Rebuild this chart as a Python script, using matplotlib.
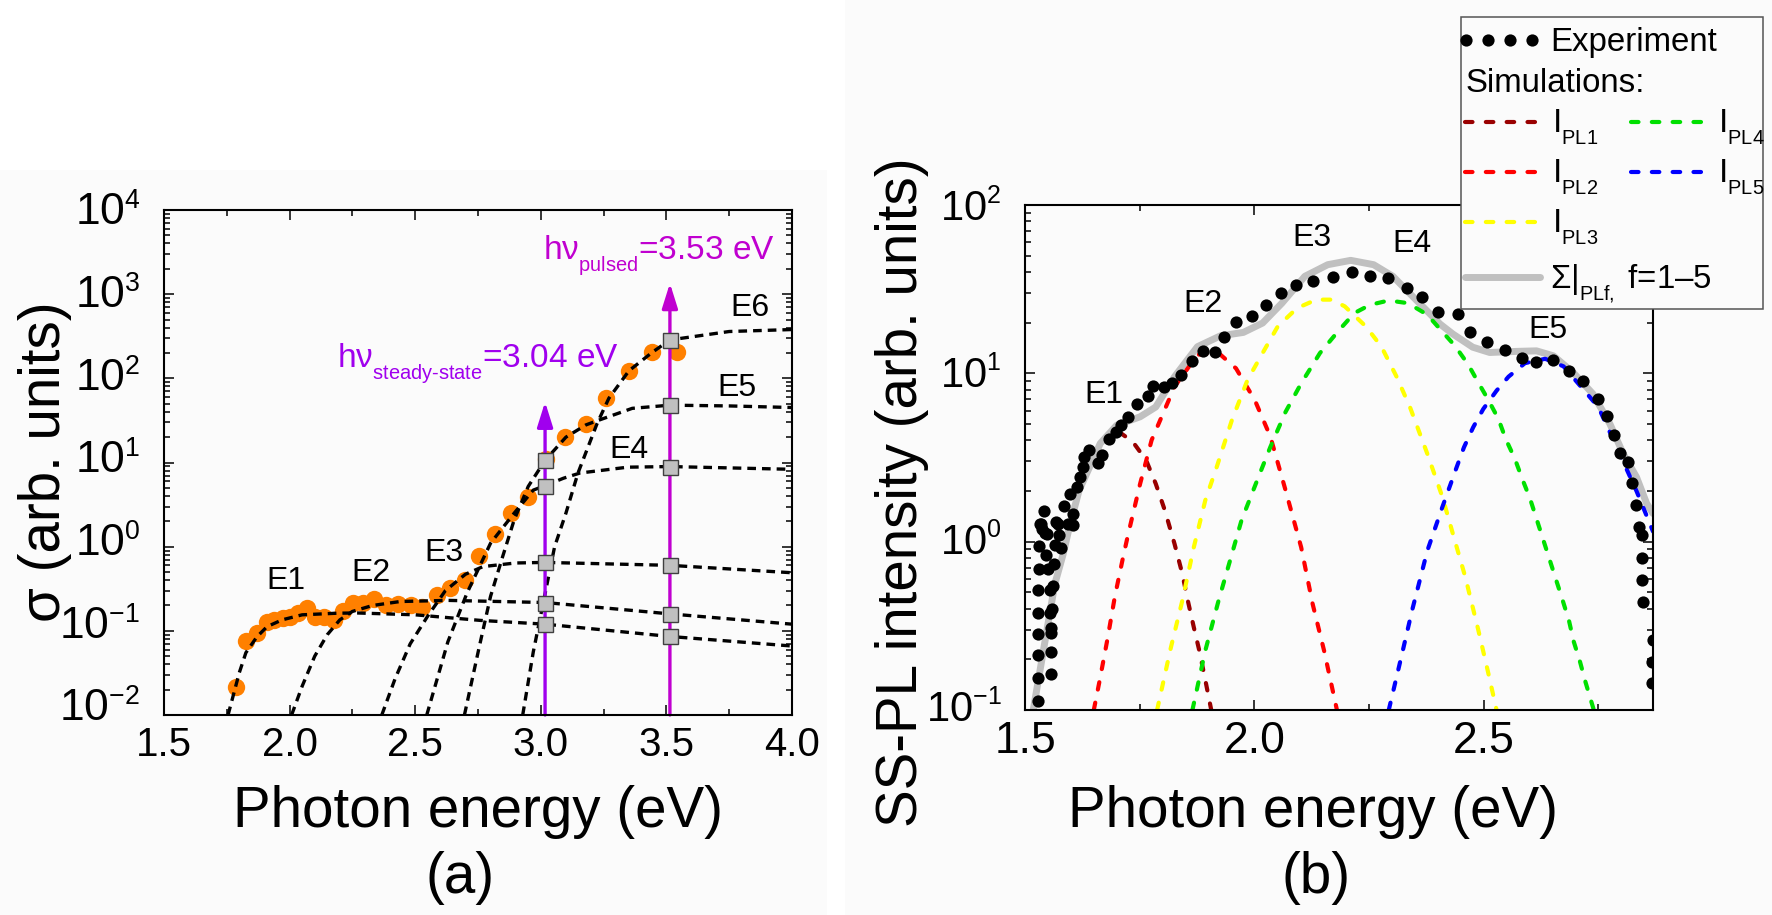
import math
import matplotlib
matplotlib.use("Agg")
import matplotlib.pyplot as plt
import matplotlib._mathtext as _mt
from matplotlib.patches import Rectangle
from matplotlib.ticker import LogLocator, MultipleLocator, NullFormatter
from matplotlib.transforms import Affine2D

_mt.SHRINK_FACTOR = 0.6
_mt.FontConstantsBase.sub1 = 0.68
plt.rcParams['font.family'] = ['Liberation Sans', 'DejaVu Sans']
plt.rcParams['mathtext.fontset'] = 'custom'
plt.rcParams['mathtext.rm'] = 'Liberation Sans'
plt.rcParams['mathtext.it'] = 'Liberation Sans:italic'
plt.rcParams['mathtext.bf'] = 'Liberation Sans:bold'
plt.rcParams['mathtext.default'] = 'regular'
plt.rcParams['axes.unicode_minus'] = True

# ---------- panel (a) ----------
exp_a_x = [1.785, 1.826, 1.871, 1.912, 1.937, 1.974, 2.003, 2.035, 2.068, 2.10, 2.138, 2.175, 2.213, 2.252,
           2.294, 2.336, 2.382, 2.431, 2.482, 2.529, 2.585, 2.637, 2.697, 2.754, 2.816, 2.881, 2.951, 3.02,
           3.098, 3.179, 3.261, 3.351, 3.443, 3.543]
exp_a_y = [0.0215, 0.075, 0.094, 0.129, 0.133, 0.141, 0.148, 0.162, 0.186, 0.148, 0.148, 0.135, 0.17, 0.214,
           0.217, 0.238, 0.204, 0.209, 0.2, 0.19, 0.263, 0.32, 0.40, 0.78, 1.42, 2.5, 3.84, 11,
           20, 28.8, 58, 123, 203, 204]
e1_x = [1.755, 1.80, 1.826, 1.87, 1.91, 1.97, 2.05, 2.19, 2.27, 2.5, 2.76, 3.017, 3.514, 4.0]
e1_y = [0.01, 0.032, 0.055, 0.085, 0.112, 0.135, 0.155, 0.162, 0.163, 0.155, 0.133, 0.12, 0.0857, 0.066]
e2_x = [2.008, 2.05, 2.10, 2.15, 2.20, 2.25, 2.33, 2.44, 2.63, 3.017, 3.514, 4.0]
e2_y = [0.01, 0.022, 0.05, 0.09, 0.135, 0.17, 0.20, 0.223, 0.23, 0.217, 0.159, 0.12]
e3_x = [2.367, 2.42, 2.48, 2.55, 2.62, 2.70, 2.77, 2.9, 3.017, 3.514, 4.0]
e3_y = [0.01, 0.027, 0.07, 0.15, 0.3, 0.47, 0.58, 0.64, 0.65, 0.6, 0.49]
e4_x = [2.546, 2.63, 2.706, 2.80, 2.894, 2.97, 3.017, 3.09, 3.156, 3.346, 3.514, 4.0]
e4_y = [0.01, 0.074, 0.28, 1.1, 2.5, 4.7, 5.3, 6.5, 7.5, 8.8, 8.95, 8.3]
e5_x = [2.696, 2.754, 2.80, 2.848, 2.894, 2.95, 3.017, 3.10, 3.18, 3.233, 3.364, 3.514, 3.75, 4.0]
e5_y = [0.01, 0.0625, 0.257, 0.76, 2.08, 5.2, 10.6, 20, 28, 32, 44, 48, 47, 45]
e6_x = [2.928, 2.97, 3.055, 3.10, 3.148, 3.224, 3.271, 3.351, 3.443, 3.514, 3.75, 4.0]
e6_y = [0.01, 0.056, 1.0, 2.5, 7.5, 29, 58, 123, 203, 286, 360, 380]
steady_x = [3.017] * 5
steady_y = [10.6, 5.3, 0.65, 0.217, 0.12]
pulsed_x = [3.514] * 6
pulsed_y = [286, 48, 8.95, 0.60, 0.159, 0.0857]
arrow_steady = (3.017, 52.5)
arrow_pulsed = (3.514, 1350)

# ---------- panel (b) ----------
exp_b_x = [1.529, 1.529, 1.529, 1.557, 1.557, 1.529, 1.556, 1.556, 1.529, 1.559, 1.555, 1.529, 1.562, 1.554,
           1.531, 1.551, 1.564, 1.545, 1.531, 1.566, 1.578, 1.544, 1.574, 1.605, 1.534, 1.573,
           1.542, 1.533, 1.538, 1.547, 1.568, 1.584, 1.593, 1.605, 1.599, 1.614, 1.620, 1.626, 1.629, 1.639,
           1.659, 1.668, 1.683, 1.699, 1.709, 1.724, 1.744, 1.769, 1.780, 1.803, 1.820, 1.841, 1.864,
           1.887, 1.914, 1.933, 1.961, 1.995, 2.025, 2.058, 2.091, 2.128, 2.171, 2.212, 2.252, 2.291,
           2.332, 2.366, 2.401, 2.444, 2.471, 2.508, 2.547, 2.583, 2.613, 2.652, 2.685, 2.716, 2.75,
           2.768, 2.784, 2.797, 2.814, 2.824, 2.833, 2.838, 2.844, 2.845, 2.846, 2.847, 2.868, 2.866, 2.866]
exp_b_y = [0.212, 0.154, 0.113, 0.222, 0.163, 0.281, 0.305, 0.285, 0.379, 0.40, 0.378, 0.514, 0.543, 0.514,
           0.69, 0.69, 0.733, 0.83, 0.94, 0.96, 0.92, 1.125, 1.09, 1.25, 1.27, 1.28,
           1.52, 1.28, 1.19, 1.11, 1.31, 1.64, 1.28, 1.47, 1.93, 2.11, 2.42, 2.78, 3.2, 3.52,
           2.94, 3.26, 4.1, 4.49, 4.92, 5.5, 6.6, 7.3, 8.4, 8.25, 8.8, 9.8, 11.8,
           13.6, 13.3, 16.5, 20.1, 21.8, 25.3, 30, 33.3, 35.6, 37.2, 39.8, 37.7, 36.8,
           32.2, 28.4, 23, 22.5, 17.6, 15.4, 13.7, 12.3, 11.7, 12, 10.3, 9.0, 7.0,
           5.6, 4.3, 3.37, 2.98, 2.22, 1.66, 1.22, 1.09, 0.80, 0.595, 0.44, 0.26, 0.193, 0.144]
sum_x = [1.518, 1.544, 1.565, 1.583, 1.597, 1.618, 1.664, 1.70, 1.751, 1.785, 1.826, 1.876, 1.926, 1.976,
         2.018, 2.06, 2.11, 2.16, 2.21, 2.26, 2.302, 2.352, 2.405, 2.433, 2.476, 2.513, 2.571, 2.615, 2.652,
         2.695, 2.738, 2.775, 2.804, 2.833, 2.855, 2.869]
sum_y = [0.10, 0.26, 0.56, 0.84, 1.23, 2.02, 3.83, 4.92, 5.52, 6.31, 9.55, 14.4, 16.7, 17.5,
         19.9, 26.1, 37.7, 44.2, 46.9, 44.2, 37.7, 27.4, 19.6, 17.1, 14.3, 13.3, 13.5, 13.6, 12.7,
         10.1, 7.55, 5.01, 3.33, 2.42, 1.69, 1.47]
pl1_x = [1.705, 1.735, 1.764, 1.785, 1.805, 1.826, 1.843, 1.855, 1.868, 1.880, 1.893, 1.906]
pl1_y = [4.49, 3.92, 3.05, 2.21, 1.53, 0.97, 0.643, 0.446, 0.31, 0.225, 0.151, 0.10]
pl2_x = [1.65, 1.663, 1.68, 1.696, 1.715, 1.725, 1.751, 1.776, 1.801, 1.826, 1.876, 1.922, 1.96, 2.001,
         2.035, 2.068, 2.102, 2.127, 2.152, 2.18]
pl2_y = [0.10, 0.151, 0.266, 0.474, 0.838, 1.11, 2.21, 4.01, 5.78, 8.32, 12.9, 13.2, 10.7, 6.93,
         4.2, 2.02, 0.927, 0.427, 0.225, 0.10]
pl3_x = [1.788, 1.818, 1.843, 1.868, 1.893, 1.918, 1.951, 1.985, 2.018, 2.051, 2.093, 2.135, 2.168, 2.197,
         2.243, 2.277, 2.31, 2.339, 2.377, 2.41, 2.435, 2.46, 2.488, 2.509, 2.528]
pl3_y = [0.10, 0.235, 0.447, 0.927, 1.76, 2.78, 5.27, 9.12, 13.2, 19, 24.4, 27.4, 27.4, 25,
         19, 14.4, 9.55, 6.32, 3.33, 1.84, 1.06, 0.614, 0.30, 0.17, 0.10]
pl4_x = [1.865, 1.893, 1.922, 1.947, 1.972, 2.006, 2.035, 2.068, 2.102, 2.143, 2.185, 2.218, 2.252, 2.293,
         2.335, 2.377, 2.408, 2.437, 2.466, 2.488, 2.51, 2.532, 2.548, 2.568, 2.584, 2.601, 2.672, 2.686,
         2.696, 2.71, 2.722, 2.74]
pl4_y = [0.10, 0.225, 0.447, 0.773, 1.34, 2.31, 3.66, 5.9, 8.71, 13.2, 18.1, 22.8, 25.5, 27.1,
         26.1, 22.3, 17.9, 14.6, 11.3, 8.83, 6.95, 5.36, 4.07, 3.1, 2.36, 1.8, 0.449, 0.338,
         0.256, 0.193, 0.146, 0.10]
pl5_x = [2.293, 2.323, 2.344, 2.377, 2.41, 2.441, 2.457, 2.477, 2.499, 2.528, 2.554, 2.59, 2.634, 2.674,
         2.75, 2.80, 2.833, 2.869]
pl5_y = [0.10, 0.222, 0.392, 0.883, 1.61, 2.77, 3.64, 4.78, 6.14, 7.89, 9.55, 11.5, 12.2, 11,
         6.3, 3.16, 2.0, 1.15]

PANEL_BG = '#FBFBFB'
W, H = 1772, 915
fig = plt.figure(figsize=(W / 100, H / 100), dpi=100, facecolor='white')


def rect(l, t, r, b):
    return [l / W, 1 - b / H, (r - l) / W, (b - t) / H]


for l, t, r, b in [(0, 170, 827, 915), (845, 0, 1772, 915)]:
    fig.patches.append(Rectangle((l / W, 1 - b / H), (r - l) / W, (b - t) / H, transform=fig.transFigure,
                                 facecolor=PANEL_BG, edgecolor='none', zorder=-5))

axa = fig.add_axes(rect(164, 210, 792, 715), facecolor='none')
axb = fig.add_axes(rect(1025, 205, 1653, 710), facecolor='none')

# panel (a) marks
axa.plot(exp_a_x, exp_a_y, 'o', color='#FF8000', ms=12.5, mew=0, zorder=2)
for xs, ys in [(e1_x, e1_y), (e2_x, e2_y), (e3_x, e3_y), (e4_x, e4_y), (e5_x, e5_y), (e6_x, e6_y)]:
    axa.plot(xs, ys, color='black', lw=2.4, dashes=(2.6, 1.8), zorder=3)
for (x, y), c in [(arrow_steady, '#A000EE'), (arrow_pulsed, '#C000D0')]:
    axa.annotate('', xy=(x, y), xytext=(x, 0.01), zorder=4,
                 arrowprops=dict(arrowstyle='-|>,head_length=1.5,head_width=0.47', color=c, lw=2.4,
                                 shrinkA=0, shrinkB=0, mutation_scale=10))
for xs, ys in [(steady_x, steady_y), (pulsed_x, pulsed_y)]:
    axa.plot(xs, ys, 's', ms=10.8, mfc='#C0C0C0', mec='#404040', mew=1.0, zorder=5, clip_on=False)

# panel (b) marks
DASH_LW = 3.0
DASH = (1.8, 3.2)
axb.plot(sum_x, sum_y, color='#C0C0C0', lw=5, solid_capstyle='round', zorder=2)
for xs, ys, c in [(pl1_x, pl1_y, '#990000'), (pl2_x, pl2_y, '#FF0000'), (pl3_x, pl3_y, '#FFFF00'),
                  (pl4_x, pl4_y, '#00E000'), (pl5_x, pl5_y, '#0000FF')]:
    axb.plot(xs, ys, color=c, lw=DASH_LW, dashes=DASH, dash_capstyle='round', zorder=3)
axb.plot(exp_b_x, exp_b_y, 'o', color='black', ms=8.8, mew=0, zorder=4)

for ax, fs_x, fs_y, xlim, ylim in [(axa, 29, 32, (1.5, 4.0), (1e-2, 1e4)),
                                   (axb, 32, 30, (1.5, 2.869), (1e-1, 1e2))]:
    ax.set_xlim(*xlim)
    ax.set_ylim(*ylim)
    ax.set_yscale('log')
    ax.xaxis.set_major_locator(MultipleLocator(0.5))
    ax.xaxis.set_minor_locator(MultipleLocator(0.25))
    ax.xaxis.set_major_formatter(lambda v, p: f'{v:.1f}')
    ax.yaxis.set_major_locator(LogLocator(base=10, numticks=20))
    ax.yaxis.set_minor_locator(LogLocator(base=10, subs=range(2, 10), numticks=20))
    ax.yaxis.set_minor_formatter(NullFormatter())
    ax.tick_params(which='major', direction='in', length=7.5, width=1.1, top=True, right=True)
    ax.tick_params(which='minor', direction='in', length=4, width=1.1, top=True, right=True)
    ax.tick_params(axis='x', which='major', labelsize=fs_x, pad=8)
    ax.tick_params(axis='y', which='major', labelsize=fs_y, pad=17)
    for s in ax.spines.values():
        s.set_linewidth(1.5)
        s.set_zorder(6)

# the reference's y tick labels creep upward relative to their ticks towards the bottom of the axis
fig.canvas.draw()
for ax, top_exp, per_decade in [(axa, 4, 1.5), (axb, 2, 1.3)]:
    for tick in ax.yaxis.get_major_ticks():
        shift = per_decade * (top_exp - math.log10(tick.get_loc()))
        tick.label1.set_transform(tick.label1.get_transform() + Affine2D().translate(0, shift))

# overlay in pixel coordinates for annotations and legend
ov = fig.add_axes([0, 0, 1, 1], facecolor='none', zorder=10)
ov.set_xlim(0, W)
ov.set_ylim(H, 0)
ov.axis('off')

AX_FS = 40.7
ov.text(60, 462, 'σ (arb. units)', fontsize=AX_FS, rotation=90, ha='center', va='baseline', rotation_mode='anchor')
ov.text(917, 492, 'SS-PL intensity (arb. units)', fontsize=AX_FS, rotation=90, ha='center', va='baseline',
        rotation_mode='anchor')
ov.text(478, 827, 'Photon energy (eV)', fontsize=AX_FS, ha='center', va='baseline')
ov.text(1313, 827, 'Photon energy (eV)', fontsize=AX_FS, ha='center', va='baseline')
ov.text(460, 893, '(a)', fontsize=AX_FS, ha='center', va='baseline')
ov.text(1316, 893, '(b)', fontsize=AX_FS, ha='center', va='baseline')

for s, x, y in [('E1', 286, 581), ('E2', 371, 573), ('E3', 444, 553), ('E4', 629, 450), ('E5', 737, 388),
                ('E6', 750, 308)]:
    ov.text(x, y, s, fontsize=23, ha='center', va='center')
for s, x, y in [('E1', 1104, 395), ('E2', 1203, 304), ('E3', 1312, 238), ('E4', 1412, 244), ('E5', 1548, 330)]:
    ov.text(x, y, s, fontsize=23, ha='center', va='center', zorder=8)

ov.text(337, 368, r'h$\nu_{steady\text{-}state}$=3.04 eV', fontsize=24, color='#A000EE', ha='left', va='baseline')
ov.text(543, 260, r'h$\nu_{pulsed}$=3.53 eV', fontsize=24, color='#C000D0', ha='left', va='baseline')

# legend
ov.add_patch(Rectangle((1461, 17), 302, 292, facecolor=PANEL_BG, edgecolor='#555555', lw=1.1, zorder=5))
ov.plot([1466, 1488, 1510, 1532], [40, 40, 40, 40], 'o', color='black', ms=8.8, mew=0, zorder=6)
ov.text(1550, 51, 'Experiment', fontsize=23.8, va='baseline', zorder=6)
ov.text(1466, 92, 'Simulations:', fontsize=23.8, va='baseline', zorder=6)
for x0, y0, c, lab in [(1463, 122, '#990000', 'PL1'), (1463, 172, '#FF0000', 'PL2'), (1463, 222, '#FFFF00', 'PL3'),
                       (1629, 122, '#00E000', 'PL4'), (1629, 172, '#0000FF', 'PL5')]:
    ov.plot([x0 + 2, x0 + 76], [y0, y0], color=c, lw=DASH_LW, dashes=DASH, dash_capstyle='round', zorder=6)
    ov.text(x0 + 89, y0 + 11, 'I$_{%s}$' % lab, fontsize=24, va='baseline', zorder=6)
ov.plot([1465, 1540], [277, 277], color='#C0C0C0', lw=5, solid_capstyle='round', zorder=6)
ov.text(1550, 288, r'$\Sigma$|$_{PLf,}$ f=1–5', fontsize=23.8, va='baseline', zorder=6)

fig.savefig('out.png', dpi=100, facecolor='white')
